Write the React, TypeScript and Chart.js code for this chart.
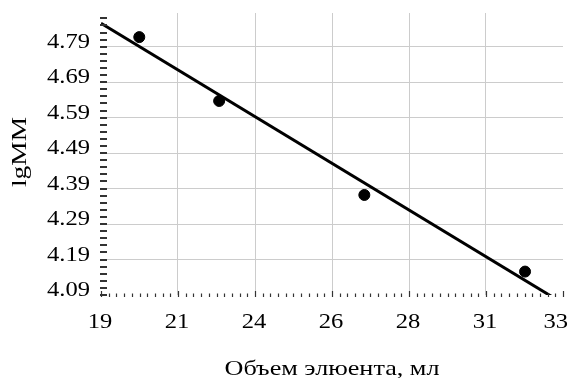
import React, { useEffect, useRef } from "react";
import { Chart, registerables } from "chart.js";

Chart.register(...registerables);

const pointX = [20.16, 22.58, 26.98, 31.85];
const pointY = [4.817, 4.637, 4.372, 4.156];
const fitX = [19, 32.67];
const fitY = [4.856, 4.085];
const xTickLabels = ["19", "21", "24", "26", "28", "31", "33"];
const yTickLabels = ["4.09", "4.19", "4.29", "4.39", "4.49", "4.59", "4.69", "4.79"];
const xMin = 19;
const xMax = 33;
const xMinorCount = 60;
const yMin = 4.09;
const yMax = 4.885;
const yMinorStep = 0.02;
const yMinorCount = 39;
const xTitle = "Объем элюента, мл";
const yTitle = "lgMM";

const FAMILY = "'Liberation Serif', 'Times New Roman', serif";

function drawText(
  ctx: CanvasRenderingContext2D,
  text: string,
  x: number,
  y: number,
  size: number,
  sx: number,
  align: "left" | "center" | "right",
  rotate = false
) {
  ctx.save();
  ctx.font = `${size}px ${FAMILY}`;
  ctx.textAlign = "left";
  ctx.textBaseline = "alphabetic";
  ctx.fillStyle = "#000";
  const w = ctx.measureText(text).width * sx;
  ctx.translate(x, y);
  if (rotate) ctx.rotate(-Math.PI / 2);
  const off = align === "left" ? 0 : align === "center" ? -w / 2 : -w;
  ctx.translate(off, 0);
  ctx.scale(sx, 1);
  ctx.fillText(text, 0, 0);
  ctx.restore();
}

const decorations = {
  id: "decorations",
  afterDatasetsDraw(chart: any) {
    const { ctx, chartArea } = chart;
    const xs = chart.scales.x;
    const ys = chart.scales.y;
    ctx.save();
    ctx.strokeStyle = "#333";
    ctx.lineWidth = 2;
    ys.ticks.forEach((t: any) => {
      const py = Math.round(ys.getPixelForValue(t.value));
      ctx.beginPath();
      ctx.moveTo(chartArea.left - 1, py);
      ctx.lineTo(chartArea.left + 6, py);
      ctx.stroke();
    });
    ctx.lineWidth = 1.2;
    xs.ticks.forEach((t: any, i: number) => {
      const px = Math.round(xs.getPixelForValue(t.value)) + 0.5;
      const len = i % 10 === 0 ? 6 : 3.5;
      ctx.beginPath();
      ctx.moveTo(px, chartArea.bottom + 2);
      ctx.lineTo(px, chartArea.bottom + 2 - len);
      ctx.stroke();
    });
    ctx.restore();
  },
  afterDraw(chart: any) {
    const { ctx, chartArea, width } = chart;
    const xs = chart.scales.x;
    const ys = chart.scales.y;
    yTickLabels.forEach((lab, i) => {
      const py = ys.getPixelForValue(yMin + i * yMinorStep * 5);
      drawText(ctx, lab, chartArea.left - 11, py + 1, 21, 1.17, "right");
    });
    ctx.save();
    ctx.font = `21px ${FAMILY}`;
    xTickLabels.forEach((lab, i) => {
      const px = xs.getPixelForValue(xMin + (i * (xMax - xMin)) / (xTickLabels.length - 1));
      const half = (ctx.measureText(lab).width * 1.17) / 2;
      const cx = Math.min(px - 1, width - 8 - half);
      drawText(ctx, lab, cx, 328, 21, 1.17, "center");
    });
    ctx.restore();
    drawText(ctx, xTitle, (chartArea.left + chartArea.right) / 2, 375, 22, 1.19, "center");
    drawText(ctx, yTitle, 25.7, (chartArea.top + chartArea.bottom) / 2 - 2, 20, 1.37, "center", true);
  },
};

export default function App() {
  const ref = useRef<HTMLCanvasElement>(null);
  useEffect(() => {
    document.body.style.margin = "0";
    const canvas = ref.current!;
    const chart = new Chart(canvas, {
      type: "scatter",
      data: {
        datasets: [
          {
            type: "line",
            data: fitX.map((x, i) => ({ x, y: fitY[i] })),
            borderColor: "#000",
            borderWidth: 3,
            pointRadius: 0,
            fill: false,
          } as any,
          {
            data: pointX.map((x, i) => ({ x, y: pointY[i] })),
            backgroundColor: "#000",
            borderColor: "#000",
            pointRadius: 5.5,
          },
        ],
      },
      plugins: [decorations],
      options: {
        animation: false,
        responsive: false,
        devicePixelRatio: 1,
        layout: { padding: { top: 13, right: 13, left: 0, bottom: 0 } },
        plugins: { legend: { display: false }, tooltip: { enabled: false } },
        scales: {
          x: {
            type: "linear",
            min: xMin,
            max: xMax,
            afterBuildTicks: (s: any) => {
              const step = (xMax - xMin) / xMinorCount;
              s.ticks = Array.from({ length: xMinorCount + 1 }, (_, k) => ({ value: xMin + k * step }));
            },
            afterFit: (s: any) => {
              s.height = 83;
            },
            ticks: { display: false, autoSkip: false },
            grid: {
              drawTicks: false,
              color: (c: any) =>
                c.index % 10 === 0 && c.index !== 0 && c.index !== xMinorCount ? "#cccccc" : "rgba(0,0,0,0)",
              lineWidth: 1,
            },
            border: { display: false },
          },
          y: {
            type: "linear",
            min: yMin,
            max: yMax,
            afterBuildTicks: (s: any) => {
              s.ticks = Array.from({ length: yMinorCount + 1 }, (_, k) => ({ value: yMin + k * yMinorStep }));
            },
            afterFit: (s: any) => {
              s.width = 101;
            },
            ticks: { display: false, autoSkip: false },
            grid: {
              drawTicks: false,
              color: (c: any) => (c.index % 5 === 0 && c.index !== 0 ? "#cccccc" : "rgba(0,0,0,0)"),
              lineWidth: 1,
            },
            border: { display: false },
          },
        },
      },
    });
    return () => chart.destroy();
  }, []);
  return (
    <div style={{ width: 576, height: 378 }}>
      <canvas ref={ref} width={576} height={378} />
    </div>
  );
}
